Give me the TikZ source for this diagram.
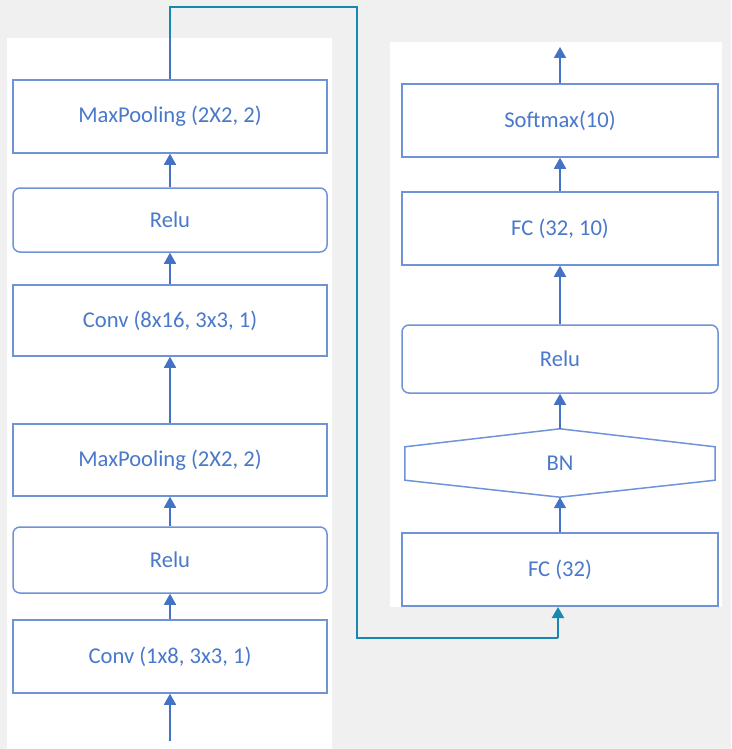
\documentclass[tikz,border=0pt]{standalone}
\usepackage{fontspec}
\setmainfont{Carlito}
\usetikzlibrary{arrows.meta,calc}
\definecolor{bgc}{HTML}{F0F0F0}
\definecolor{boxc}{HTML}{6F93D8}
\definecolor{txtc}{HTML}{4A78CA}
\definecolor{arrc}{HTML}{4472C4}
\definecolor{tealc}{HTML}{1688B2}
\tikzset{
  lbl/.style={text=txtc, font=\fontsize{22.6}{26}\selectfont},
  layer/.style={draw=boxc, line width=1.5pt, fill=white, minimum height=#1, lbl, inner sep=0pt},
  lbox/.style={layer=#1, minimum width=314pt},
  rbox/.style={layer=#1, minimum width=316pt},
  rnd/.style={rounded corners=7pt},
  flow/.style={draw=arrc, line width=1.6pt, -{Triangle[width=12pt,length=11pt]}},
  bus/.style={draw=tealc, line width=2.2pt},
}
\begin{document}
\begin{tikzpicture}[x=1pt,y=-1pt]
\useasboundingbox (0,0) rectangle (731,749);
\fill[bgc] (0,0) rectangle (731,749);
\fill[white] (7,38) rectangle (332,749);
\fill[white] (390,42) rectangle (722,607);

% left column
\node[lbox=73pt] (mp2) at (170,116.5) {MaxPooling (2X2, 2)};
\node[lbox=64pt, rnd] (relu2) at (170,220) {Relu};
\node[lbox=71pt] (conv2) at (170,320.5) {Conv (8x16, 3x3, 1)};
\node[lbox=72pt] (mp1) at (170,460) {MaxPooling (2X2, 2)};
\node[lbox=66pt, rnd] (relu1) at (170,560) {Relu};
\node[lbox=73pt] (conv1) at (170,656.5) {Conv (1x8, 3x3, 1)};
\coordinate (in) at (170,741);

% right column
\node[rbox=73pt] (soft) at (560,120.5) {Softmax(10)};
\node[rbox=73pt] (fc2) at (560,228.5) {FC (32, 10)};
\node[rbox=68pt, rnd] (relu3) at (560,359) {Relu};
\node[minimum width=310pt, minimum height=68pt, inner sep=0pt, lbl] (bn) at (560,463) {};
\draw[draw=boxc, line width=1.5pt, fill=white]
  (bn.north) -- ($(bn.north east)+(0,18)$) -- ($(bn.south east)+(0,-17)$) -- (bn.south)
  -- ($(bn.south west)+(0,-17)$) -- ($(bn.north west)+(0,18)$) -- cycle;
\node[lbl] at (bn.center) {BN};
\node[rbox=73pt] (fc1) at (560,569.5) {FC (32)};
\coordinate (out) at (560,47);

% left arrows
\draw[flow] (in) -- (conv1.south);
\draw[flow] (conv1.north) -- (relu1.south);
\draw[flow] (relu1.north) -- (mp1.south);
\draw[flow] (mp1.north) -- (conv2.south);
\draw[flow] (conv2.north) -- (relu2.south);
\draw[flow] (relu2.north) -- (mp2.south);

% right arrows
\draw[flow] (fc1.north) -- (bn.south);
\draw[flow] (bn.north) -- (relu3.south);
\draw[flow] (relu3.north) -- (fc2.south);
\draw[flow] (fc2.north) -- (soft.south);
\draw[flow] (soft.north) -- (out);

% connector between columns
\coordinate (c1) at (170,38);
\coordinate (tA) at (357,7);
\coordinate (tB) at (357,638);
\coordinate (tC) at (558,638);
\coordinate (tD) at (558,607);
\draw[draw=arrc, line width=1.5pt] (mp2.north) -- (c1);
\draw[bus] (c1) |- (tA) -- (tB) -- (tC);
\draw[bus, -{Triangle[width=12pt,length=11pt]}] (tC) -- (tD);
\end{tikzpicture}
\end{document}
